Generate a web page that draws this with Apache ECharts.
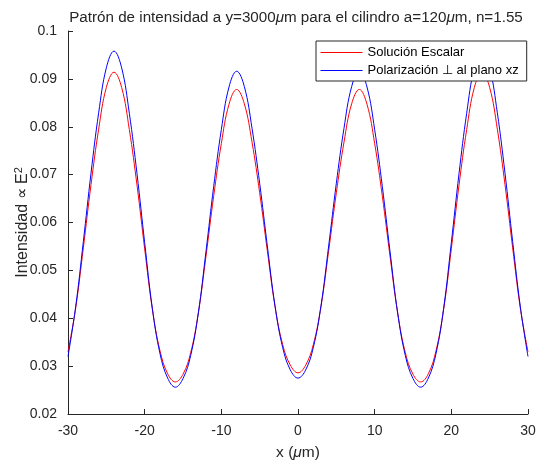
<!DOCTYPE html>
<html>
<head>
<meta charset="utf-8">
<script src="https://cdn.jsdelivr.net/npm/echarts@6/dist/echarts.min.js"></script>
<style>
  html, body { margin: 0; padding: 0; background: #fff; }
  #chart { width: 536px; height: 465px; }
</style>
</head>
<body>
<div id="chart"></div>
<script>
// posiciones x (um)
const xValues = [
  -30, -29, -28, -27, -26, -25, -24, -23, -22, -21, -20, -19, -18, -17, -16,
  -15, -14, -13, -12, -11, -10, -9, -8, -7, -6, -5, -4, -3, -2, -1, 0,
  1, 2, 3, 4, 5, 6, 7, 8, 9, 10, 11, 12, 13, 14, 15,
  16, 17, 18, 19, 20, 21, 22, 23, 24, 25, 26, 27, 28, 29, 30
]
// solucion escalar (rojo)
const escalar = [
  0.0330, 0.0421, 0.0547, 0.0679, 0.0795, 0.0882, 0.0914, 0.0882, 0.0794, 0.0678, 0.0545, 0.0419, 0.0332, 0.0284, 0.0267,
  0.0283, 0.0328, 0.0411, 0.0530, 0.0655, 0.0765, 0.0847, 0.0878, 0.0848, 0.0768, 0.0662, 0.0541, 0.0425, 0.0345, 0.0302, 0.0286,
  0.0302, 0.0345, 0.0425, 0.0541, 0.0662, 0.0768, 0.0848, 0.0878, 0.0847, 0.0765, 0.0655, 0.0530, 0.0411, 0.0328, 0.0283,
  0.0267, 0.0284, 0.0332, 0.0419, 0.0545, 0.0678, 0.0794, 0.0882, 0.0914, 0.0882, 0.0795, 0.0679, 0.0547, 0.0421, 0.0330
]
// polarizacion perpendicular al plano xz (azul)
const polarizacion = [
  0.0320, 0.0424, 0.0560, 0.0703, 0.0829, 0.0923, 0.0958, 0.0923, 0.0828, 0.0702, 0.0558, 0.0421, 0.0326, 0.0275, 0.0256,
  0.0274, 0.0322, 0.0411, 0.0540, 0.0675, 0.0794, 0.0883, 0.0916, 0.0884, 0.0797, 0.0682, 0.0551, 0.0426, 0.0339, 0.0292, 0.0275,
  0.0292, 0.0339, 0.0426, 0.0551, 0.0682, 0.0797, 0.0884, 0.0916, 0.0883, 0.0794, 0.0675, 0.0540, 0.0411, 0.0322, 0.0274,
  0.0256, 0.0275, 0.0326, 0.0421, 0.0558, 0.0702, 0.0828, 0.0923, 0.0958, 0.0923, 0.0829, 0.0703, 0.0560, 0.0424, 0.0320
]

const fuente = 'Liberation Sans, Arial, Helvetica, sans-serif'
const gris = '#262626'
const rojo = '#ff0000'
const azul = '#0000ff'

const chart = echarts.init(document.getElementById('chart'))
const option = {
  animation: false,
  textStyle: { fontFamily: fuente },
  title: {
    text: 'Patrón de intensidad a y=3000{i|μ}m para el cilindro a=120{i|μ}m, n=1.55',
    left: 291,
    textAlign: 'center',
    top: 5,
    textStyle: {
      fontFamily: fuente,
      fontSize: 15.2,
      fontWeight: 'normal',
      color: gris,
      rich: {
        i: { fontFamily: fuente, fontSize: 15.2, fontStyle: 'italic', color: gris }
      }
    }
  },
  legend: {
    orient: 'vertical',
    left: 316,
    top: 41,
    padding: [5, 8, 4, 4],
    itemGap: 5,
    itemWidth: 42,
    itemHeight: 14,
    backgroundColor: '#fff',
    borderColor: gris,
    borderWidth: 1,
    borderRadius: 0,
    textStyle: { fontFamily: fuente, fontSize: 13, color: '#000' },
    data: [
      { name: 'Solución Escalar', itemStyle: { opacity: 0 }, lineStyle: { color: rojo, width: 1 } },
      { name: 'Polarización ⊥ al plano xz', itemStyle: { opacity: 0 }, lineStyle: { color: azul, width: 1 } }
    ]
  },
  grid: { left: 68, right: 8, top: 31, bottom: 51, containLabel: false, outerBoundsMode: 'none' },
  xAxis: {
    type: 'value',
    min: -30,
    max: 30,
    interval: 10,
    name: 'x ({i|μ}m)',
    nameLocation: 'middle',
    nameGap: 31,
    nameMoveOverlap: false,
    nameTextStyle: {
      fontSize: 15.5,
      color: gris,
      rich: { i: { fontSize: 15.5, fontStyle: 'italic', color: gris } }
    },
    axisLine: { onZero: false, lineStyle: { color: gris, width: 1 } },
    axisTick: { inside: true, length: 5, lineStyle: { color: gris } },
    axisLabel: { fontSize: 14, color: gris, margin: 10 },
    splitLine: { show: false }
  },
  yAxis: {
    type: 'value',
    min: 0.02,
    max: 0.1,
    interval: 0.01,
    name: 'Intensidad ∝ E{s|2}',
    nameLocation: 'middle',
    nameGap: 35,
    nameMoveOverlap: false,
    nameRotate: 90,
    nameTextStyle: {
      fontSize: 16,
      color: gris,
      rich: { s: { fontSize: 11, color: gris, verticalAlign: 'top', padding: [0, 0, 9, 0] } }
    },
    axisLine: { show: true, onZero: false, lineStyle: { color: gris, width: 1 } },
    axisTick: { show: true, inside: true, length: 5, lineStyle: { color: gris } },
    axisLabel: { fontSize: 14, color: gris, margin: 11 },
    splitLine: { show: false }
  },
  series: [
    {
      name: 'Solución Escalar',
      type: 'line',
      data: xValues.map((x, i) => [x, escalar[i]]),
      smooth: 0.4,
      symbol: 'none',
      lineStyle: { color: rojo, width: 1 },
      itemStyle: { color: rojo }
    },
    {
      name: 'Polarización ⊥ al plano xz',
      type: 'line',
      data: xValues.map((x, i) => [x, polarizacion[i]]),
      smooth: 0.4,
      symbol: 'none',
      lineStyle: { color: azul, width: 1 },
      itemStyle: { color: azul }
    }
  ]
}
chart.setOption(option)
</script>
</body>
</html>
